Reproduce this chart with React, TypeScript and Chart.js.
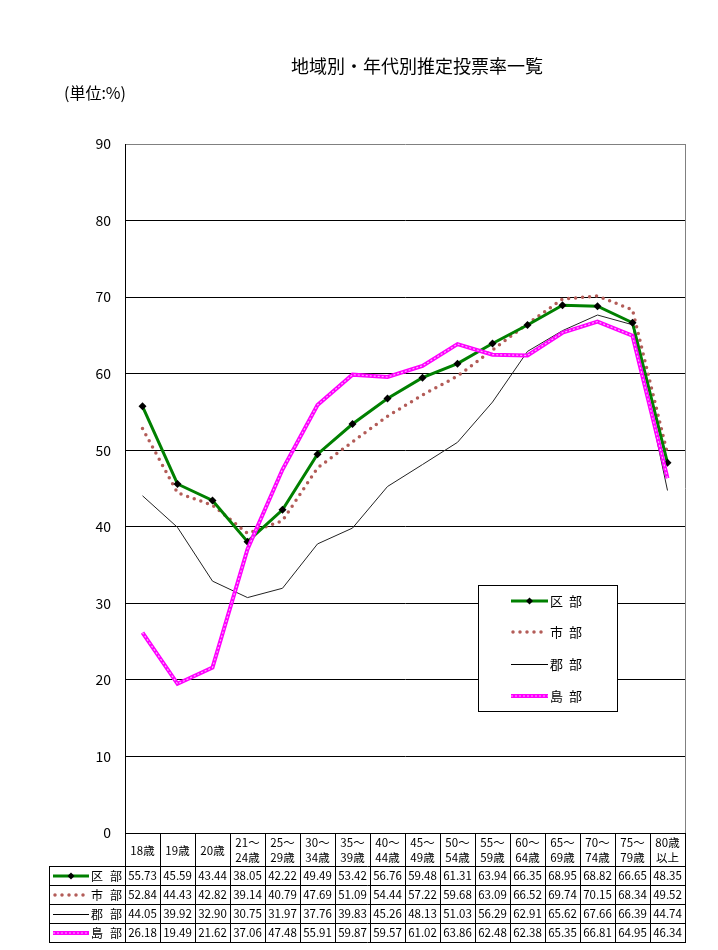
import React, { useEffect, useRef } from "react";
import { Chart, registerables } from "chart.js";

Chart.register(...registerables);

const title = "地域別・年代別推定投票率一覧";
const unitLabel = "(単位:%)";
const categories: string[][] = [
  ["18歳"], ["19歳"], ["20歳"], ["21～", "24歳"], ["25～", "29歳"], ["30～", "34歳"],
  ["35～", "39歳"], ["40～", "44歳"], ["45～", "49歳"], ["50～", "54歳"], ["55～", "59歳"],
  ["60～", "64歳"], ["65～", "69歳"], ["70～", "74歳"], ["75～", "79歳"], ["80歳", "以上"],
];
const seriesNames = ["区 部", "市 部", "郡 部", "島 部"];
const kubu = [55.73, 45.59, 43.44, 38.05, 42.22, 49.49, 53.42, 56.76, 59.48, 61.31, 63.94, 66.35, 68.95, 68.82, 66.65, 48.35];
const shibu = [52.84, 44.43, 42.82, 39.14, 40.79, 47.69, 51.09, 54.44, 57.22, 59.68, 63.09, 66.52, 69.74, 70.15, 68.34, 49.52];
const gunbu = [44.05, 39.92, 32.90, 30.75, 31.97, 37.76, 39.83, 45.26, 48.13, 51.03, 56.29, 62.91, 65.62, 67.66, 66.39, 44.74];
const tobu = [26.18, 19.49, 21.62, 37.06, 47.48, 55.91, 59.87, 59.57, 61.02, 63.86, 62.48, 62.38, 65.35, 66.81, 64.95, 46.34];
const yMin = 0;
const yMax = 90;
const yStep = 10;

const FONT = "'Noto Sans CJK JP', 'Noto Sans', sans-serif";
const GREEN = "#008000";
const DOT = "#B35C58";
const MAGENTA = "#FF00FF";
const MAGENTA_IN = "#FFA8FF";

function drawSample(ctx: CanvasRenderingContext2D, idx: number, x1: number, x2: number, y: number) {
  ctx.save();
  ctx.beginPath();
  if (idx === 0) {
    ctx.strokeStyle = GREEN;
    ctx.lineWidth = 3;
    ctx.moveTo(x1, y);
    ctx.lineTo(x2, y);
    ctx.stroke();
    const cx = (x1 + x2) / 2;
    ctx.fillStyle = "#000";
    ctx.beginPath();
    ctx.moveTo(cx, y - 3.5);
    ctx.lineTo(cx + 3.5, y);
    ctx.lineTo(cx, y + 3.5);
    ctx.lineTo(cx - 3.5, y);
    ctx.closePath();
    ctx.fill();
  } else if (idx === 1) {
    ctx.strokeStyle = DOT;
    ctx.lineWidth = 3.5;
    ctx.lineCap = "round";
    ctx.setLineDash([0, 7]);
    ctx.moveTo(x1 + 2, y);
    ctx.lineTo(x2, y);
    ctx.stroke();
  } else if (idx === 2) {
    ctx.strokeStyle = "#000";
    ctx.lineWidth = 1;
    ctx.moveTo(x1, y + 0.5);
    ctx.lineTo(x2, y + 0.5);
    ctx.stroke();
  } else {
    ctx.strokeStyle = MAGENTA;
    ctx.lineWidth = 4;
    ctx.moveTo(x1, y);
    ctx.lineTo(x2, y);
    ctx.stroke();
    ctx.beginPath();
    ctx.strokeStyle = MAGENTA_IN;
    ctx.lineWidth = 1.2;
    ctx.setLineDash([2, 2]);
    ctx.moveTo(x1, y);
    ctx.lineTo(x2, y);
    ctx.stroke();
  }
  ctx.restore();
}

function drawName(ctx: CanvasRenderingContext2D, name: string, x: number, y: number, gap: number) {
  const parts = name.split(" ");
  ctx.textAlign = "left";
  ctx.fillText(parts[0], x, y);
  ctx.fillText(parts[1] ?? "", x + gap, y);
}

const decorPlugin = {
  id: "decor",
  afterDraw(chart: any) {
    const ctx: CanvasRenderingContext2D = chart.ctx;
    const xs = chart.scales.x;
    const area = chart.chartArea;
    const n = categories.length;
    const colW = (area.right - area.left) / n;
    ctx.save();
    // Title and unit
    ctx.fillStyle = "#000";
    ctx.textBaseline = "middle";
    ctx.textAlign = "center";
    ctx.font = `18px ${FONT}`;
    ctx.fillText(title, 417, 66);
    ctx.textAlign = "left";
    ctx.font = `16px ${FONT}`;
    ctx.fillText(unitLabel, 64, 93);

    // right plot border
    ctx.strokeStyle = "#808080";
    ctx.lineWidth = 1;
    ctx.beginPath();
    ctx.moveTo(area.right + 0.5, area.top);
    ctx.lineTo(area.right + 0.5, area.bottom);
    ctx.stroke();

    // Legend box
    const lx = 478, ly = 585, lw = 139, lh = 126;
    ctx.fillStyle = "#fff";
    ctx.fillRect(lx, ly, lw, lh);
    ctx.strokeStyle = "#000";
    ctx.strokeRect(lx + 0.5, ly + 0.5, lw, lh);
    const legYs = [601, 632, 664, 696];
    ctx.font = `13px ${FONT}`;
    for (let i = 0; i < 4; i++) {
      drawSample(ctx, i, 511, 548, legYs[i]);
      ctx.fillStyle = "#000";
      drawName(ctx, seriesNames[i], 550, legYs[i], 19);
    }

    // Data table
    const tLeft = 49;
    const hTop = area.bottom;
    const hBot = 866;
    const rowH = 19;
    const rowTops = [hBot, hBot + rowH, hBot + rowH * 2, hBot + rowH * 3];
    const tBot = hBot + rowH * 4;
    ctx.strokeStyle = "#000";
    ctx.lineWidth = 1;
    ctx.beginPath();
    for (let i = 0; i <= n; i++) {
      const x = Math.round(area.left + colW * i) + 0.5;
      ctx.moveTo(x, hTop);
      ctx.lineTo(x, tBot);
    }
    ctx.moveTo(tLeft + 0.5, hBot);
    ctx.lineTo(tLeft + 0.5, tBot);
    for (let r = 0; r <= 4; r++) {
      const y = hBot + rowH * r + 0.5;
      ctx.moveTo(tLeft, y);
      ctx.lineTo(area.right + 1, y);
    }
    ctx.stroke();

    ctx.fillStyle = "#000";
    ctx.textAlign = "center";
    ctx.font = `11.5px ${FONT}`;
    for (let i = 0; i < n; i++) {
      const cx = xs.getPixelForValue(i);
      const lines = categories[i];
      if (lines.length === 1) {
        ctx.fillText(lines[0], cx, (hTop + hBot) / 2 + 1);
      } else {
        ctx.fillText(lines[0], cx, hTop + 9.5);
        ctx.fillText(lines[1], cx, hTop + 25);
      }
    }
    const all = [kubu, shibu, gunbu, tobu];
    for (let r = 0; r < 4; r++) {
      const cy = rowTops[r] + rowH / 2 + 0.5;
      ctx.font = `11.5px ${FONT}`;
      ctx.textAlign = "center";
      for (let i = 0; i < n; i++) {
        ctx.fillText(all[r][i].toFixed(2), xs.getPixelForValue(i), cy);
      }
      drawSample(ctx, r, 53, 89, cy);
      ctx.fillStyle = "#000";
      ctx.font = `12px ${FONT}`;
      drawName(ctx, seriesNames[r], 91, cy, 19);
    }
    ctx.restore();
  },
};

export default function App() {
  const ref = useRef<HTMLCanvasElement | null>(null);
  useEffect(() => {
    if (!ref.current) return;
    Chart.defaults.font.family = FONT;
    const labels = categories.map((c) => c.join(""));
    const chart = new Chart(ref.current, {
      type: "line",
      data: {
        labels,
        datasets: [
          {
            label: seriesNames[0],
            data: kubu,
            borderColor: GREEN,
            borderWidth: 3,
            pointStyle: "rectRot",
            pointRadius: 4,
            pointBackgroundColor: "#000",
            pointBorderColor: "#000",
            pointBorderWidth: 0,
            order: 3,
          },
          {
            label: seriesNames[1],
            data: shibu,
            borderColor: DOT,
            borderWidth: 3.5,
            borderDash: [0, 7],
            borderCapStyle: "round",
            pointRadius: 0,
            order: 4,
          },
          {
            label: seriesNames[2],
            data: gunbu,
            borderColor: "#222",
            borderWidth: 1,
            pointRadius: 0,
            order: 5,
          },
          {
            label: seriesNames[3],
            data: tobu,
            borderColor: MAGENTA,
            borderWidth: 4,
            pointRadius: 0,
            order: 2,
          },
          {
            label: "",
            data: tobu,
            borderColor: MAGENTA_IN,
            borderWidth: 1.2,
            borderDash: [2, 2],
            pointRadius: 0,
            order: 1,
          },
        ],
      },
      options: {
        animation: false,
        responsive: false,
        maintainAspectRatio: false,
        events: [],
        layout: { padding: { left: 0, right: 33, top: 144, bottom: 0 } },
        plugins: { legend: { display: false }, tooltip: { enabled: false }, title: { display: false } },
        scales: {
          x: {
            type: "category",
            offset: true,
            grid: { display: false, drawTicks: false },
            ticks: { display: false },
            border: { color: "#000", width: 1 },
            afterFit: (s: any) => {
              s.height = 117;
            },
          },
          y: {
            min: yMin,
            max: yMax,
            ticks: { stepSize: yStep, color: "#000", font: { size: 14, family: FONT }, padding: 14 },
            grid: {
              drawTicks: false,
              color: (c: any) => (c.tick && c.tick.value === yMax ? "#808080" : "#000"),
              lineWidth: 1,
            },
            border: { color: "#000", width: 1 },
            afterFit: (s: any) => {
              s.width = 125;
            },
          },
        },
      },
      plugins: [decorPlugin],
    } as any);
    return () => chart.destroy();
  }, []);
  return (
    <div style={{ position: "absolute", left: 0, top: 0, width: 718, height: 950, background: "#fff" }}>
      <canvas ref={ref} width={718} height={950} style={{ width: 718, height: 950 }} />
    </div>
  );
}
